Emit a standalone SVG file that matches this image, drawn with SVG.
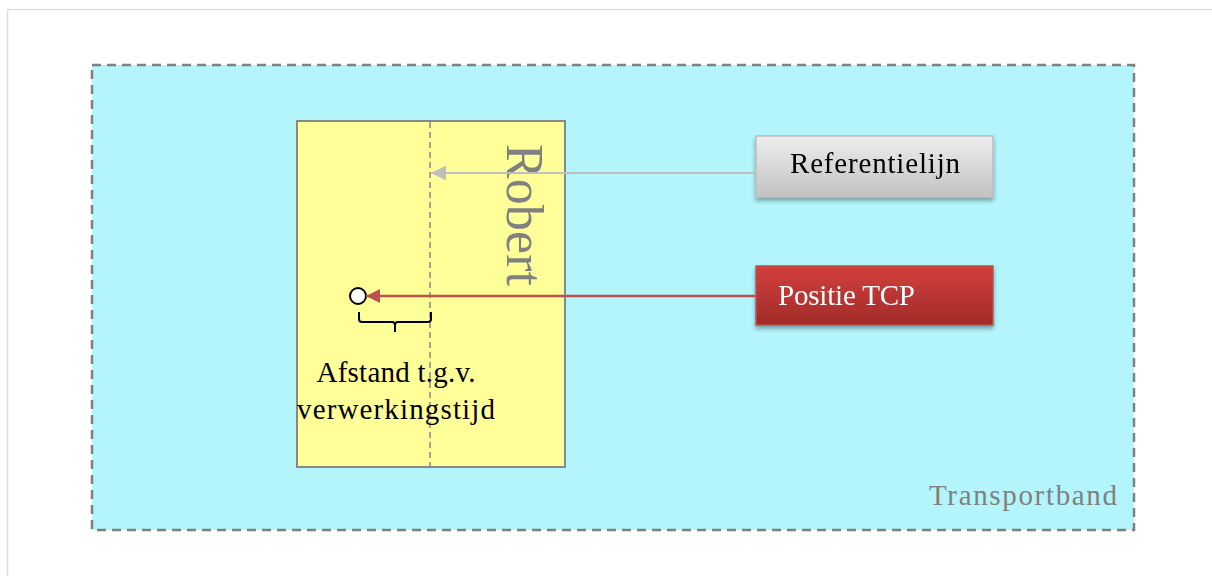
<svg xmlns="http://www.w3.org/2000/svg" width="1212" height="576" viewBox="0 0 1212 576">
  <style>
    .serif { font-family: "Liberation Serif", "DejaVu Serif", serif; }
    .label { font-size: 29px; fill: #000; }
    .conn-grey { stroke: #bfbfbf; stroke-width: 2; fill: none; }
    .conn-red { stroke: #c0504d; stroke-width: 2.5; fill: none; }
  </style>
  <defs>
    <linearGradient id="gGrey" x1="0" y1="0" x2="0" y2="1">
      <stop offset="0" stop-color="#eeeeee"/>
      <stop offset="1" stop-color="#c2c2c2"/>
    </linearGradient>
    <linearGradient id="gRed" x1="0" y1="0" x2="0" y2="1">
      <stop offset="0" stop-color="#d3403c"/>
      <stop offset="1" stop-color="#a12b29"/>
    </linearGradient>
    <filter id="shadow" x="-10%" y="-20%" width="120%" height="150%">
      <feGaussianBlur in="SourceAlpha" stdDeviation="2"/>
      <feOffset dx="0" dy="3" result="b"/>
      <feComponentTransfer><feFuncA type="linear" slope="0.35"/></feComponentTransfer>
      <feMerge><feMergeNode/><feMergeNode in="SourceGraphic"/></feMerge>
    </filter>
    <marker id="arrGrey" viewBox="0 0 10 10" refX="10" refY="5" markerWidth="15" markerHeight="15" markerUnits="userSpaceOnUse" orient="auto">
      <path d="M0,0 L10,5 L0,10 z" fill="#bfbfbf"/>
    </marker>
    <marker id="arrRed" viewBox="0 0 10 10" refX="10" refY="5" markerWidth="14" markerHeight="14" markerUnits="userSpaceOnUse" orient="auto">
      <path d="M0,0 L10,5 L0,10 z" fill="#c0504d"/>
    </marker>
  </defs>

  <!-- page -->
  <rect x="0" y="0" width="1212" height="576" fill="#ffffff"/>
  <rect x="7.5" y="9.5" width="1210" height="600" fill="none" stroke="#dddddd" stroke-width="1.5"/>

  <!-- conveyor belt -->
  <g id="transportband">
    <rect x="92" y="65" width="1042" height="465" fill="#b3f5fb" stroke="#808080" stroke-width="2.5" stroke-dasharray="9,6"/>
    <text class="serif" x="1117" y="505" font-size="29" fill="#808080" text-anchor="end" textLength="188">Transportband</text>
  </g>

  <!-- robot area -->
  <g id="robot">
    <rect x="297" y="121" width="268" height="346" fill="#ffff99" stroke="#888888" stroke-width="2"/>
    <line x1="430" y1="122" x2="430" y2="466" stroke="#888888" stroke-width="1.5" stroke-dasharray="6,4"/>
    <text class="serif" transform="translate(507,144) rotate(90)" font-size="52" fill="#808080" textLength="142">Robert</text>
  </g>

  <!-- tool centre point -->
  <g id="tcp">
    <circle cx="358" cy="296" r="8" fill="#ffffff" stroke="#000000" stroke-width="2"/>
  </g>

  <!-- offset brace and caption -->
  <g id="afstand">
    <path d="M359,312 V319 Q359,322 362,322 H392 Q395,322 395,325 V332 M395,325 Q395,322 398,322 H428 Q431,322 431,319 V312" fill="none" stroke="#000000" stroke-width="2"/>
    <text class="serif label" x="396" y="382" text-anchor="middle" textLength="159">Afstand t.g.v.</text>
    <text class="serif label" x="396" y="419" text-anchor="middle" textLength="198">verwerkingstijd</text>
  </g>

  <!-- reference line label -->
  <g id="referentielijn" filter="url(#shadow)">
    <rect x="756" y="136" width="237" height="61" fill="url(#gGrey)" stroke="#bdbdbd" stroke-width="1.5"/>
    <text class="serif" x="875" y="173" font-size="29" fill="#000" text-anchor="middle" textLength="170">Referentielijn</text>
  </g>

  <!-- TCP position label -->
  <g id="positie-tcp" filter="url(#shadow)">
    <rect x="756" y="266" width="237" height="59" fill="url(#gRed)" stroke="#c0504d" stroke-width="1.5"/>
    <text class="serif" x="778" y="305" font-size="29" fill="#ffffff" textLength="137">Positie TCP</text>
  </g>

  <!-- connectors -->
  <g id="connectors">
    <path class="conn-grey" d="M756,173 H431" marker-end="url(#arrGrey)"/>
    <path class="conn-red" d="M756,296 H366" marker-end="url(#arrRed)"/>
  </g>
</svg>
